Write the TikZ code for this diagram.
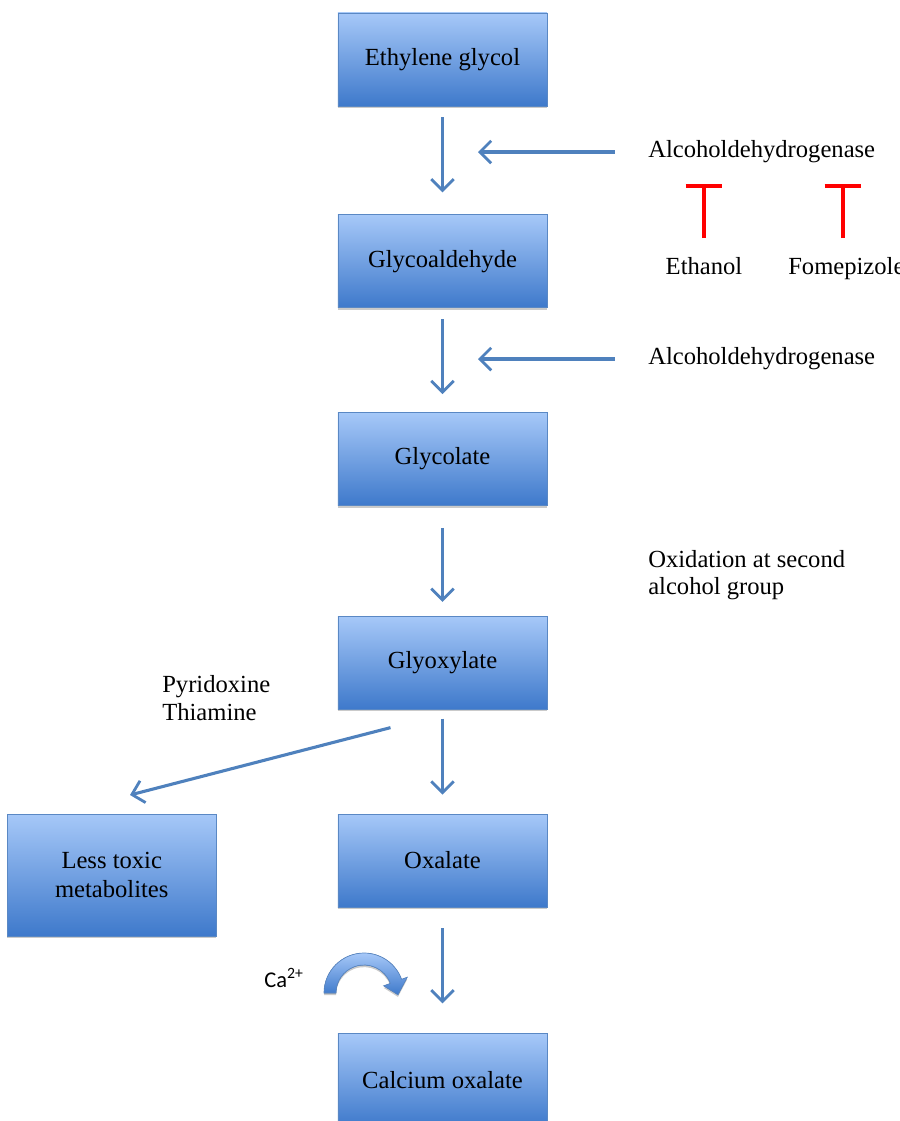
\documentclass[tikz,border=0pt]{standalone}
\usepackage{fontspec}
\setmainfont{Liberation Serif}
\newfontfamily\calfont{Carlito}
\usetikzlibrary{arrows.meta,positioning,calc,shadows}
\definecolor{boxtop}{HTML}{A6C8F8}
\definecolor{boxbot}{HTML}{3E79CB}
\definecolor{boxline}{HTML}{5A88C4}
\definecolor{arrblue}{HTML}{4F81BD}
\definecolor{inhred}{HTML}{FF0000}

\begin{document}
\begin{tikzpicture}[
  x=0.025cm, y=-0.025cm,
  box/.style={rectangle, draw=boxline, line width=0.5pt,
              top color=boxtop, bottom color=boxbot,
              minimum width=5.225cm, minimum height=2.325cm,
              font=\fontsize{17.5}{20}\selectfont, align=center,
              drop shadow={shadow xshift=0pt, shadow yshift=-1.5pt,
                           fill=black!35, opacity=0.6}},
  lbl/.style={font=\fontsize{17.5}{19.5}\selectfont, align=left, inner sep=0pt},
  arr/.style={-{Straight Barb[length=8pt, width=16pt, line width=2pt]},
              line width=2.2pt, arrblue},
  inhib/.style={-{Bar[width=26pt, line width=3pt]}, line width=2.2pt, inhred}
]
  \useasboundingbox (0,0) rectangle (900,1121);
  % main pathway
  \node[box] (eg) at (442.5,59.5) {Ethylene glycol};
  \node[box, below=2.7cm of eg] (gald) {Glycoaldehyde};
  \node[box, below=2.6cm of gald] (glc) {Glycolate};
  \node[box, below=2.75cm of glc] (glx) {Glyoxylate};
  \node[box, below=2.6cm of glx] (oxa) {Oxalate};
  \node[box, below=3.15cm of oxa] (caox) {Calcium oxalate};
  \node[box, minimum height=3.05cm, anchor=north east]
    (less) at ($(oxa.north west)+(-121,0)$) {Less toxic\\metabolites};
  % labels
  \node[lbl, anchor=west] (adh1) at (648,152) {Alcoholdehydrogenase};
  \node[lbl, anchor=west] (adh2) at (648,359) {Alcoholdehydrogenase};
  \node[lbl, anchor=base] (etoh) at (704,274) {Ethanol};
  \node[lbl, anchor=base west] (fome) at (788,274) {Fomepizole};
  \node[lbl, anchor=west] (oxid) at (648,575) {Oxidation at second\\alcohol group};
  \node[lbl, anchor=west] (vit) at (162,698) {Pyridoxine\\Thiamine};
  \node[font=\calfont\fontsize{16}{18}\selectfont, inner sep=0pt] (ca) at (284,978)
    {Ca\textsuperscript{2+}};
  \coordinate (e1) at (478,152);
  \coordinate (e2) at (478,359);
  \coordinate (d1) at (130,795);
  \coordinate (t1) at (704,238);
  \coordinate (t2) at (843,238);
  % arrows
  \draw[arr, shorten <=0.275cm, shorten >=0.55cm] (eg) -- (gald);
  \draw[arr, shorten <=0.275cm, shorten >=0.45cm] (gald) -- (glc);
  \draw[arr, shorten <=0.55cm, shorten >=0.35cm] (glc) -- (glx);
  \draw[arr, shorten <=0.225cm, shorten >=0.475cm] (glx) -- (oxa);
  \draw[arr, shorten <=0.525cm, shorten >=0.75cm] (oxa) -- (caox);
  \draw[arr, shorten <=0.825cm] (adh1) -- (e1);
  \draw[arr, shorten <=0.825cm] (adh2) -- (e2);
  \draw[arr] ($(glx.south)+(-52,18)$) -- (d1);
  \draw[inhib] (t1) -- ++(0,-54);
  \draw[inhib] (t2) -- ++(0,-54);
  % calcium arc
  \coordinate (cc) at (364,993);
  \filldraw[draw=boxline, line width=0.5pt, top color=boxtop, bottom color=boxbot,
            drop shadow={shadow xshift=0pt, shadow yshift=-1.5pt, fill=black!35, opacity=0.6}]
    ($(cc)+(180:40)$) arc[start angle=180, end angle=340, radius=40]
    -- ($(cc)+(340:46)$) -- ($(cc)+(3:34)$) -- ($(cc)+(340:21)$)
    -- ($(cc)+(340:28)$) arc[start angle=340, end angle=180, radius=28] -- cycle;
\end{tikzpicture}
\end{document}
